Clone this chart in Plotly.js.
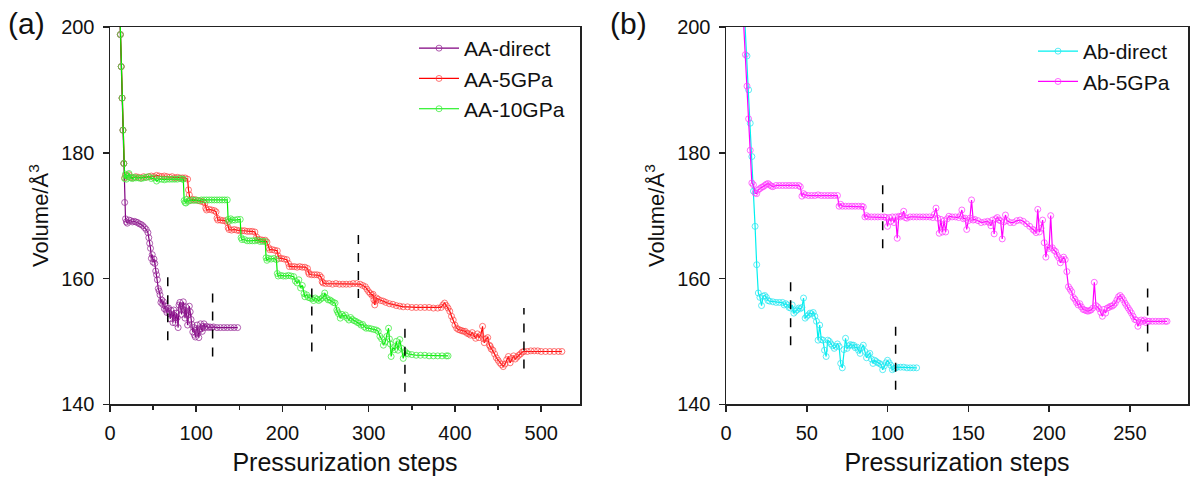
<!DOCTYPE html>
<html>
<head>
<meta charset="utf-8">
<script src="https://cdn.plot.ly/plotly-3.0.1.min.js"></script>
<style>html,body{margin:0;padding:0;background:#fff}#chart{width:1195px;height:483px}</style>
</head>
<body>
<div id="chart"></div>
<script>
// ---------- Panel (a) data ----------
const aaDirectX = [8,9,10,11,12,13,14,15,16,17,18,19,20,22,24,26,28,30,32,34,36,38,40,42,44,45,46,47,48,49,50,51,52,53,54,55,56,57,58,59,60,61,62,63,64,65,66,67,68,69,70,71,72,73,74,75,76,77,78,79,80,81,82,83,84,85,86,87,88,89,90,91,92,93,94,95,96,97,98,99,100,101,102,103,104,105,106,107,108,109,110,112,114,116,118,120,124,128,132,136,140,144,148];
const aaDirectY = [219,214,209,204,198.8,193.7,188.7,183.6,178.3,172.1,169.5,169.0,168.8,169.3,169.2,169.0,169.1,169.0,168.9,168.7,168.6,168.4,168.1,167.8,167.3,166.5,165.6,164.8,163.2,163.8,162.6,163.1,162.4,161.2,160.6,159.8,158.4,158.0,157.4,156.2,156.6,155.9,156.3,155.2,155.6,155.0,154.6,155.2,155.3,154.4,153.6,154.9,154.3,153.0,155.0,154.1,152.9,154.5,153.8,152.2,155.8,156.2,155.1,154.3,155.7,156.3,155.0,153.7,155.5,154.4,152.6,154.2,155.6,154.7,153.5,152.7,151.5,152.2,151.0,150.7,151.8,152.6,151.3,150.6,151.9,152.8,152.0,151.6,152.4,152.8,152.2,152.4,152.2,152.3,152.2,152.3,152.2,152.2,152.2,152.2,152.2,152.2,152.2];

const aa5X = [8,9,10,11,12,13,14,15,16,17,18,20,22,24,27,30,33,36,39,42,45,48,51,54,57,60,63,66,69,72,75,78,81,84,87,90,91,92,93,96,99,102,105,108,110,111,112,115,118,121,123,124,125,128,131,134,136,137,138,141,144,147,150,153,156,159,162,165,168,170,171,174,177,180,182,184,185,188,191,194,195,196,199,202,205,207,208,211,214,217,220,223,226,229,230,231,234,237,240,243,245,246,247,250,254,258,262,266,270,274,278,282,286,290,293,296,298,300,302,304,305,306,307,308,309,311,314,317,320,324,328,332,336,340,345,350,355,360,365,370,375,380,384,386,388,390,392,394,396,398,400,402,404,406,408,410,412,414,416,418,420,422,424,426,428,430,432,433,434,436,438,440,441,442,444,446,448,450,452,454,456,458,460,462,464,466,468,470,472,474,476,478,480,484,488,492,496,500,505,510,515,520,524];
const aa5Y = [219,214,209,204,198.8,193.7,188.7,183.6,178.3,176.0,176.4,176.2,176.5,176.1,176.0,176.2,176.1,176.0,176.2,176.1,176.2,176.3,176.2,176.4,176.3,176.2,176.3,176.2,176.1,176.2,176.0,176.1,176.0,176.0,176.0,175.8,174.1,173.3,172.4,172.6,172.5,172.4,172.3,172.2,172.0,171.2,170.9,171.0,170.9,170.8,170.6,169.6,169.3,169.3,169.2,169.2,168.9,168.1,167.8,167.7,167.8,167.7,167.6,167.6,167.6,167.5,167.5,167.5,167.4,166.6,166.2,166.2,166.1,166.1,165.8,164.9,164.6,164.6,164.5,164.4,163.6,163.2,163.2,163.1,163.0,162.4,161.9,161.9,161.9,161.8,161.9,161.8,161.8,161.6,161.0,160.7,160.6,160.6,160.6,160.5,160.2,159.5,159.3,159.2,159.2,159.1,159.2,159.1,159.1,159.1,159.1,159.2,159.2,159.1,158.9,158.7,158.3,157.9,157.6,157.3,157.5,156.6,155.8,156.4,156.9,156.7,156.5,156.4,156.2,156.0,155.9,155.7,155.6,155.5,155.5,155.4,155.4,155.4,155.4,155.4,155.3,155.3,155.4,155.8,156.1,155.7,155.3,154.8,154.0,153.4,152.6,152.1,151.9,151.8,151.7,151.6,151.6,151.3,151.2,151.0,151.4,150.9,150.5,151.2,150.6,151.0,152.4,150.4,149.8,150.4,150.6,149.4,149.2,148.8,148.6,148.0,147.4,147.0,146.6,146.3,146.0,146.4,147.1,147.6,146.6,147.3,147.7,147.2,147.5,147.8,148.0,148.3,148.4,148.4,148.5,148.5,148.5,148.4,148.4,148.4,148.4,148.4,148.4];

const aa10X = [8,9,10,11,12,13,14,15,16,17,18,19,20,21,22,24,26,28,30,33,36,39,42,45,48,51,54,57,60,63,66,69,72,75,78,81,84,85,86,87,88,89,91,94,97,100,103,106,109,112,115,118,121,124,127,130,133,136,137,138,140,142,145,148,151,152,153,156,159,162,165,168,171,174,177,180,181,182,184,187,190,193,194,195,198,201,204,207,210,213,215,217,219,221,223,225,226,228,230,232,234,236,238,240,242,244,246,248,249,251,253,255,257,259,261,263,264,265,267,269,271,273,275,277,279,281,283,285,287,289,291,293,295,297,300,303,306,309,311,313,315,317,319,321,323,324,325,326,328,330,332,334,336,338,340,342,344,346,350,355,360,365,370,375,380,385,390,392];
const aa10Y = [219,214,209,204,198.8,193.7,188.7,183.6,178.3,175.9,176.6,175.8,176.4,176.2,176.7,176.0,175.9,176.1,176.0,176.0,175.9,176.0,176.1,176.2,175.9,176.0,175.5,175.8,175.8,175.7,175.8,175.8,175.8,175.8,175.8,175.9,175.8,175.8,172.4,172.1,172.0,172.6,172.3,172.5,172.4,172.5,172.4,172.5,172.5,172.5,172.5,172.5,172.5,172.5,172.5,172.5,172.5,172.5,169.4,169.1,169.5,169.3,169.3,169.4,169.4,166.5,166.2,166.2,166.0,166.0,166.0,166.0,166.1,165.9,165.9,165.9,163.3,162.9,163.2,163.1,163.2,163.0,160.8,160.4,160.5,160.4,160.4,160.5,160.4,160.3,159.6,159.3,159.8,158.5,158.9,157.6,157.1,157.4,157.0,156.9,156.8,156.5,156.9,156.7,156.5,156.7,156.9,157.2,157.7,156.9,156.6,156.6,156.4,156.2,156.1,155.0,154.7,154.4,153.7,154.3,154.0,154.2,153.7,153.4,153.8,153.5,153.3,153.2,153.0,152.9,152.6,152.7,152.3,152.1,152.1,152.0,151.9,151.8,151.6,150.8,150.4,149.4,149.9,150.8,152.1,150.4,149.6,147.6,149.0,148.7,150.0,148.6,150.3,148.9,147.3,148.4,148.1,148.0,147.9,147.8,147.8,147.8,147.7,147.7,147.7,147.7,147.7,147.7];

const dashAX  = [67, 119, 234, 288, 342, 480];
const dashAY0 = [150.2, 147.6, 148.4, 156.9, 142.0, 145.7];
const dashAY1 = [160.6, 157.9, 158.7, 167.2, 152.4, 155.3];

// ---------- Panel (b) data ----------
const abDirectX = [6,8,10,11,12,13,14,15,16,17,18,19,20,21,22,23,24,25,26,27,29,31,33,35,36,37,38,39,40,41,42,43,44,45,46,47,48,49,50,51,52,53,54,55,56,57,58,59,60,61,62,63,64,65,66,67,68,69,70,71,72,73,74,75,76,77,78,79,80,81,82,83,84,85,86,87,88,89,90,91,92,93,94,95,96,97,98,99,100,101,102,103,104,105,106,108,110,112,114,116,118];
const abDirectY = [230,220,210,205,200.5,195.4,190.0,184.7,179.4,173.9,168.3,162.2,157.7,157.0,155.7,157.2,157.3,157.0,156.5,156.4,156.3,156.2,156.2,156.2,155.8,156.0,155.8,155.4,155.3,155.8,154.5,154.8,155.0,155.3,155.2,155.4,156.9,153.7,154.0,154.2,154.5,154.4,154.6,154.0,153.2,150.2,152.6,150.3,150.2,148.6,147.6,150.2,150.0,149.6,149.3,148.9,149.2,149.6,149.2,146.5,145.8,148.7,150.5,148.9,149.3,149.5,149.4,149.4,149.0,149.1,148.6,148.1,149.0,149.4,148.4,147.4,147.9,148.1,147.2,146.5,147.0,146.8,146.6,146.5,146.3,145.5,146.1,146.6,147.0,146.6,146.2,145.5,145.7,145.8,145.9,145.9,145.9,145.8,145.8,145.8,145.8];

const ab5X = [6,8,10,11,12,13,14,15,16,17,18,19,20,21,22,23,24,25,26,27,28,29,31,33,35,37,39,41,43,45,46,47,48,49,51,53,55,57,59,61,63,65,67,69,70,71,72,74,76,78,80,82,84,85,86,87,88,90,92,94,96,98,99,100,101,102,103,104,105,106,107,108,109,110,111,112,114,116,118,120,122,124,126,128,129,130,131,132,133,134,135,136,137,138,140,142,144,145,146,147,148,149,150,151,152,153,154,156,158,160,162,163,164,165,166,167,168,169,170,171,172,173,174,176,178,180,182,184,186,188,190,191,192,193,194,195,196,197,198,199,200,201,202,203,204,205,206,207,208,209,210,211,212,213,214,215,216,217,218,219,220,221,222,223,224,225,226,227,228,229,230,231,232,233,234,235,236,237,238,239,240,241,242,243,244,245,246,247,248,249,250,251,252,253,254,255,256,257,258,259,260,261,262,264,266,268,270,272,273];
const ab5Y = [225,215,205,200.5,195.6,190.6,185.4,180.4,175.2,174.9,173.6,173.5,174.1,174.3,174.5,174.6,174.8,175.0,175.1,174.9,174.7,174.6,174.8,174.8,174.8,174.8,174.8,174.8,174.8,174.8,174.6,173.1,173.5,173.3,173.2,173.2,173.2,173.3,173.2,173.2,173.2,173.2,173.2,173.2,171.5,171.8,171.5,171.5,171.5,171.5,171.5,171.5,171.5,171.4,169.8,170.0,169.8,169.8,169.8,169.8,169.8,169.8,169.7,168.3,169.7,169.1,169.8,168.9,169.8,166.4,169.9,169.8,170.0,170.7,169.7,169.6,169.8,169.8,169.8,169.8,169.8,169.8,169.8,169.7,170.2,171.2,169.6,167.2,169.4,167.4,169.2,167.4,169.5,169.9,169.8,169.8,169.7,170.0,170.9,169.5,169.6,167.8,169.2,169.6,172.5,169.3,169.4,169.2,168.9,169.0,169.1,168.9,168.4,169.3,167.1,169.5,169.7,169.3,169.2,166.3,169.0,170.1,169.2,168.9,168.9,169.2,169.3,169.1,168.7,168.3,167.8,167.6,167.3,171.0,167.4,168.0,169.3,165.7,163.4,165.0,164.8,170.0,164.9,164.5,164.3,163.7,163.3,162.5,163.0,163.4,163.0,161.1,158.7,158.3,157.9,157.0,156.7,156.2,155.8,156.0,155.5,155.1,155.0,154.9,154.8,154.9,155.0,155.3,159.4,155.7,155.5,155.2,154.6,154.0,155.1,154.5,155.3,155.4,155.6,155.6,155.8,156.1,156.6,157.1,157.3,157.0,156.6,156.1,155.7,155.3,154.9,154.5,154.0,153.5,153.4,152.4,153.0,153.4,153.2,153.4,153.0,153.2,153.2,153.2,153.2,153.2,153.2,153.2,153.2];

const dashBX  = [40, 97, 105, 261];
const dashBY0 = [149.4, 164.8, 142.3, 148.4];
const dashBY1 = [159.8, 175.2, 152.6, 158.7];

// ---------- Styles ----------
const FONT = 'Liberation Sans, Arial, sans-serif';
function series(x, y, name, col, mcol, xa, ya, leg) {
  return {
    x: x, y: y, name: name, type: 'scatter', mode: 'lines+markers',
    xaxis: xa, yaxis: ya, legend: leg,
    line: {color: col, width: 1.2},
    marker: {symbol: 'circle-open', size: 6, color: mcol, line: {width: 1, color: mcol}},
    cliponaxis: true
  };
}
const traces = [
  series(aaDirectX, aaDirectY, 'AA-direct', '#800080', 'rgba(150,40,150,0.75)', 'x', 'y', 'legend'),
  series(aa5X, aa5Y, 'AA-5GPa', '#ff0000', 'rgba(255,60,60,0.7)', 'x', 'y', 'legend'),
  series(aa10X, aa10Y, 'AA-10GPa', '#00ee00', 'rgba(60,235,60,0.75)', 'x', 'y', 'legend'),
  series(abDirectX, abDirectY, 'Ab-direct', '#00f0f0', 'rgba(40,230,240,0.75)', 'x2', 'y2', 'legend2'),
  series(ab5X, ab5Y, 'Ab-5GPa', '#ff00ff', 'rgba(255,60,255,0.75)', 'x2', 'y2', 'legend2')
];

const shapes = [];
dashAX.forEach((v, i) => shapes.push({type: 'line', xref: 'x', yref: 'y', x0: v, x1: v, y0: dashAY0[i], y1: dashAY1[i], line: {color: '#000', width: 1.5, dash: 'dash'}}));
dashBX.forEach((v, i) => shapes.push({type: 'line', xref: 'x2', yref: 'y2', x0: v, x1: v, y0: dashBY0[i], y1: dashBY1[i], line: {color: '#000', width: 1.5, dash: 'dash'}}));

const W = 1195, H = 483;
const axBase = {
  showline: true, mirror: true, linecolor: '#222', linewidth: 1.5,
  ticks: 'outside', ticklen: 6, tickwidth: 1.5, tickcolor: '#222',
  showgrid: false, zeroline: false, ticklabelstandoff: 4,
  tickfont: {family: FONT, size: 20, color: '#111'}
};
const ydom = [1 - 404.3 / H, 1 - 27 / H];
const xTitle = {text: 'Pressurization steps', font: {family: FONT, size: 25, color: '#111'}, standoff: 10};
const yTitle = {text: 'Volume/Å<sup>3</sup>', font: {family: FONT, size: 22, color: '#111'}, standoff: 6};
const layout = {
  width: W, height: H,
  margin: {l: 0, r: 0, t: 0, b: 0},
  paper_bgcolor: '#fff', plot_bgcolor: '#fff',
  font: {family: FONT, color: '#111'},
  showlegend: true,
  xaxis: Object.assign({}, axBase, {domain: [110 / W, 580 / W], range: [0, 545], dtick: 100, anchor: 'y',
    minor: {ticks: 'outside', ticklen: 4, tickwidth: 1.5, tickcolor: '#222', dtick: 50}, title: xTitle}),
  yaxis: Object.assign({}, axBase, {domain: ydom, range: [140, 200], dtick: 20, anchor: 'x', title: yTitle}),
  xaxis2: Object.assign({}, axBase, {domain: [726 / W, 1188 / W], range: [0, 286], dtick: 50, anchor: 'y2', title: xTitle}),
  yaxis2: Object.assign({}, axBase, {domain: ydom, range: [140, 200], dtick: 20, anchor: 'x2', title: yTitle}),
  legend: {x: 414 / W, y: 1 - 28 / H, xanchor: 'left', yanchor: 'top', bgcolor: 'rgba(0,0,0,0)',
    font: {family: FONT, size: 21, color: '#111'}, tracegroupgap: 0, itemwidth: 40},
  legend2: {x: 1033 / W, y: 1 - 31 / H, xanchor: 'left', yanchor: 'top', bgcolor: 'rgba(0,0,0,0)',
    font: {family: FONT, size: 21, color: '#111'}, tracegroupgap: 0, itemwidth: 40},
  shapes: shapes,
  annotations: [
    {text: '(a)', xref: 'paper', yref: 'paper', x: 6 / W, y: 1 - 5 / H, xanchor: 'left', yanchor: 'top', showarrow: false, font: {family: FONT, size: 30, color: '#111'}},
    {text: '(b)', xref: 'paper', yref: 'paper', x: 608 / W, y: 1 - 5 / H, xanchor: 'left', yanchor: 'top', showarrow: false, font: {family: FONT, size: 30, color: '#111'}}
  ]
};
Plotly.newPlot('chart', traces, layout, {displayModeBar: false, staticPlot: true});
</script>
</body>
</html>
